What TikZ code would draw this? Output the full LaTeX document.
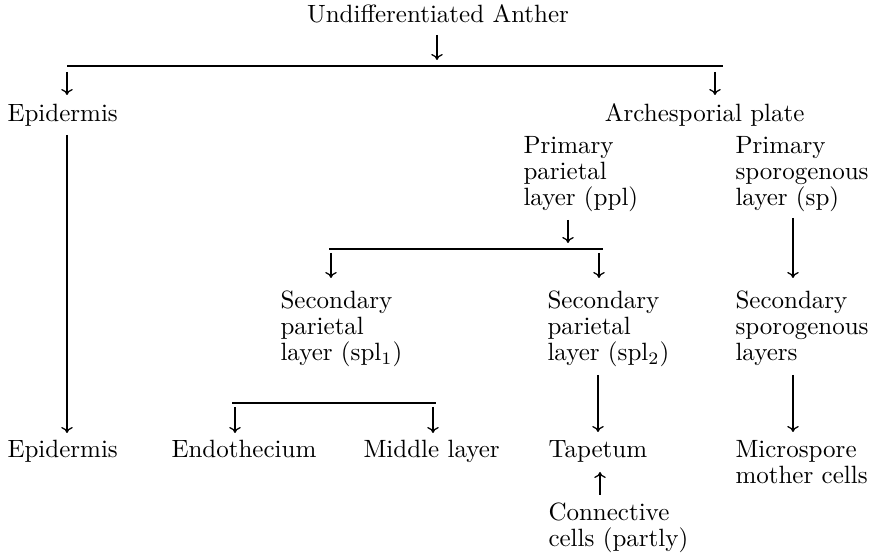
\documentclass[tikz,border=0pt]{standalone}
\usetikzlibrary{arrows.meta}
\begin{document}
\begin{tikzpicture}[x=0.4pt,y=-0.4pt,
  lbl/.style={font=\fontsize{10}{10.4}\selectfont, inner sep=0pt, align=left, anchor=base west},
  arr/.style={-{Computer Modern Rightarrow[length=2.4pt,width=4.6pt]}, line width=0.5pt},
  ln/.style={line width=0.5pt}]
\useasboundingbox[fill=white] (0,0) rectangle (873,557);
% nodes (anchor = baseline of the last line)
\node[lbl, anchor=base] (T) at (438,23) {Undifferentiated Anther};
\node[lbl] (E1) at (7,122) {Epidermis};
\node[lbl, anchor=base east] (AP) at (805,122) {Archesporial plate};
\node[lbl] (PPL) at (523,206) {Primary\\parietal\\layer (ppl)};
\node[lbl] (PSP) at (735,206) {Primary\\sporogenous\\layer (sp)};
\node[lbl] (SPL1) at (280,361) {Secondary\\parietal\\layer (spl$_1$)};
\node[lbl] (SPL2) at (547,361) {Secondary\\parietal\\layer (spl$_2$)};
\node[lbl] (SSL) at (735,361) {Secondary\\sporogenous\\layers};
\node[lbl] (E2) at (7,458) {Epidermis};
\node[lbl] (EN) at (171,458) {Endothecium};
\node[lbl] (ML) at (363,458) {Middle layer};
\node[lbl] (TP) at (548,458) {Tapetum};
\node[lbl] (MMC) at (735,484) {Microspore\\mother cells};
\node[lbl] (CC) at (548,547) {Connective\\cells (partly)};
% coordinates
\coordinate (t1) at (437,35);  \coordinate (t2) at (437,60);
\coordinate (b1l) at (67,66);  \coordinate (b1r) at (723,66);
\coordinate (e1a) at (67,72);  \coordinate (e1b) at (67,95);
\coordinate (apa) at (715,72); \coordinate (apb) at (715,95);
\coordinate (e2a) at (67,135); \coordinate (e2b) at (67,433);
\coordinate (p1) at (568,220); \coordinate (p2) at (568,243);
\coordinate (b2l) at (329,249); \coordinate (b2r) at (603,249);
\coordinate (s1a) at (331,253); \coordinate (s1b) at (331,278);
\coordinate (s2a) at (599,253); \coordinate (s2b) at (599,278);
\coordinate (spa) at (793,218); \coordinate (spb) at (793,278);
\coordinate (tpa) at (598,375); \coordinate (tpb) at (598,432);
\coordinate (mma) at (793,375); \coordinate (mmb) at (793,432);
\coordinate (b3l) at (232,403); \coordinate (b3r) at (436,403);
\coordinate (ena) at (235,407); \coordinate (enb) at (235,433);
\coordinate (mla) at (433,407); \coordinate (mlb) at (433,433);
\coordinate (cca) at (600,495); \coordinate (ccb) at (600,472);
% connectors
\draw[arr] (t1) -- (t2);
\draw[ln] (b1l) -- (b1r);
\draw[arr] (e1a) -- (e1b);
\draw[arr] (apa) -- (apb);
\draw[arr] (e2a) -- (e2b);
\draw[arr] (p1) -- (p2);
\draw[ln] (b2l) -- (b2r);
\draw[arr] (s1a) -- (s1b);
\draw[arr] (s2a) -- (s2b);
\draw[arr] (spa) -- (spb);
\draw[arr] (tpa) -- (tpb);
\draw[arr] (mma) -- (mmb);
\draw[ln] (b3l) -- (b3r);
\draw[arr] (ena) -- (enb);
\draw[arr] (mla) -- (mlb);
\draw[arr] (cca) -- (ccb);
\end{tikzpicture}
\end{document}
